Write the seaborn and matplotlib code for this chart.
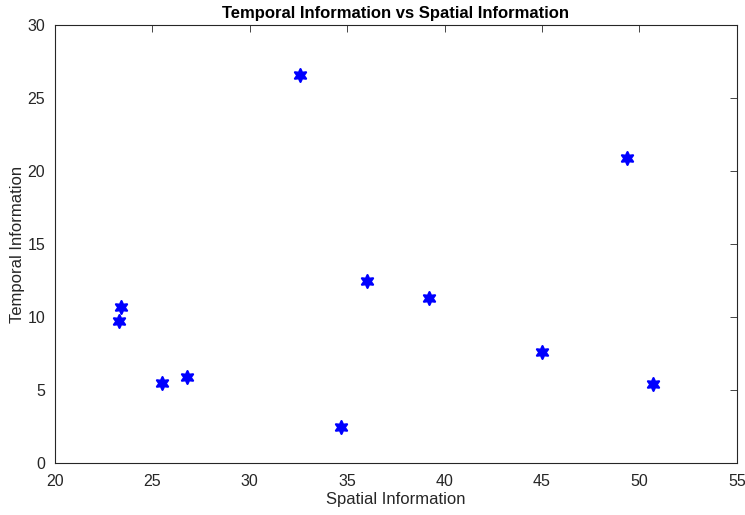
import matplotlib
matplotlib.use("Agg")
import matplotlib.pyplot as plt
import seaborn as sns
import pandas as pd

# values
spatial = [32.6, 49.35, 36.0, 39.2, 23.4, 23.3, 45.0, 26.8, 25.5, 50.7, 34.7]
temporal = [26.6, 20.9, 12.5, 11.3, 10.7, 9.7, 7.6, 5.9, 5.5, 5.4, 2.5]
x_ticks = [20, 25, 30, 35, 40, 45, 50, 55]
y_ticks = [0, 5, 10, 15, 20, 25, 30]

df = pd.DataFrame({"Spatial Information": spatial, "Temporal Information": temporal})

sns.set_theme(style="white")
plt.rcParams["font.family"] = ["Liberation Sans", "DejaVu Sans"]

fig = plt.figure(figsize=(7.45, 5.15), dpi=100)
ax = fig.add_axes([0.0738, 0.101, 0.9152, 0.850])

sns.scatterplot(data=df, x="Spatial Information", y="Temporal Information", ax=ax,
                marker=(6, 1, 0), s=85, color="#0000ff", edgecolor="#0000ff",
                linewidth=1.6)

ax.set_xlim(20, 55)
ax.set_ylim(0, 30)
ax.set_xticks(x_ticks)
ax.set_yticks(y_ticks)
ax.tick_params(direction="in", length=5, width=0.6, colors="#262626",
               labelsize=11.5, top=True, right=True, labelcolor="#262626")
ax.tick_params(axis="x", pad=8)
ax.tick_params(axis="y", pad=7)
for sp in ax.spines.values():
    sp.set_color("#262626")
    sp.set_linewidth(0.8)

ax.set_xlabel("Spatial Information", fontsize=12, color="#262626", labelpad=2)
ax.set_ylabel("Temporal Information", fontsize=12, color="#262626", labelpad=2)
ax.set_title("Temporal Information vs Spatial Information", fontsize=12,
             fontweight="bold", color="black", pad=5)

fig.savefig("out.png", dpi=100)
